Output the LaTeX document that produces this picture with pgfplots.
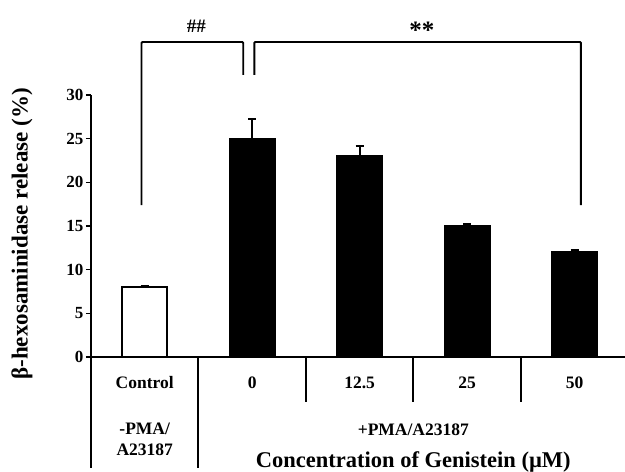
\documentclass[border=0pt]{standalone}
\usepackage{fontspec}
\setmainfont{Liberation Serif}
\usepackage{pgfplots}
\pgfplotsset{compat=1.18}
\begin{document}
\begin{tikzpicture}
\begin{axis}[
  scale only axis, width=534pt, height=262pt,
  xmin=-0.5, xmax=4.47, ymin=0, ymax=30,
  axis x line=bottom, axis y line=left,
  axis line style={-, line width=1.9pt},
  xtick=\empty,
  ytick={0,5,...,30},
  tick style={line width=1.6pt, black},
  tick align=outside, major tick length=5pt,
  yticklabel style={font=\bfseries\fontsize{17}{17}\selectfont, xshift=1pt},
  /pgf/number format/assume math mode=true,
  clip=false,
  ybar, bar width=45pt,
  error bars/y dir=plus, error bars/y explicit,
  error bars/error bar style={line width=1.9pt, solid},
  error bars/error mark options={rotate=90, mark size=4pt, line width=1.9pt},
]
\addplot[bar shift=0pt, draw=black, fill=white, line width=1.9pt] coordinates {(0,8) +- (0,0.15)};
\addplot[bar shift=0pt, draw=black, fill=black, line width=1.9pt] coordinates {(1,25) +- (0,2.3) (2,23) +- (0,1.2) (3,15) +- (0,0.2) (4,12) +- (0,0.3)};

\coordinate (O) at (axis cs:-0.5,0);
% table lines below the axis
\draw[line width=1.9pt] (axis cs:-0.5,0) -- ([yshift=-111pt]axis cs:-0.5,0);
\draw[line width=1.9pt] (axis cs:0.5,0) -- ([yshift=-111pt]axis cs:0.5,0);
\draw[line width=1.9pt] (axis cs:1.5,0) -- ([yshift=-45pt]axis cs:1.5,0);
\draw[line width=1.9pt] (axis cs:2.5,0) -- ([yshift=-45pt]axis cs:2.5,0);
\draw[line width=1.9pt] (axis cs:3.5,0) -- ([yshift=-45pt]axis cs:3.5,0);
% category labels
\node[font=\bfseries\fontsize{17.5}{17.5}\selectfont] at ([yshift=-26pt]axis cs:0,0) {Control};
\node[font=\bfseries\fontsize{17.5}{17.5}\selectfont] at ([yshift=-26pt]axis cs:1,0) {0};
\node[font=\bfseries\fontsize{17.5}{17.5}\selectfont] at ([yshift=-26pt]axis cs:2,0) {12.5};
\node[font=\bfseries\fontsize{17.5}{17.5}\selectfont] at ([yshift=-26pt]axis cs:3,0) {25};
\node[font=\bfseries\fontsize{17.5}{17.5}\selectfont] at ([yshift=-26pt]axis cs:4,0) {50};
\node[font=\bfseries\fontsize{17.5}{21}\selectfont, align=center] at ([yshift=-82pt]axis cs:0,0) {-PMA/\\A23187};
\node[font=\bfseries\fontsize{17.5}{17.5}\selectfont] at ([yshift=-73pt]axis cs:2.5,0) {+PMA/A23187};
\node[font=\bfseries\fontsize{22.5}{22.5}\selectfont] at ([yshift=-105pt]axis cs:2.5,0) {Concentration of Genistein (µM)};
% y label
\node[font=\bfseries\fontsize{23}{23}\selectfont, rotate=90] at ([xshift=-69pt]axis cs:-0.5,14.1) {β-hexosaminidase release (\%)};
% significance brackets
\draw[line width=1.9pt, rounded corners=1pt] (axis cs:-0.03,17.4) -- (axis cs:-0.03,36.07) -- (axis cs:0.917,36.07) -- (axis cs:0.917,32.3);
\draw[line width=1.9pt, rounded corners=1pt] (axis cs:1.02,32.3) -- (axis cs:1.02,36.07) -- (axis cs:4.06,36.07) -- (axis cs:4.06,17.4);
\node[font=\bfseries\fontsize{19}{19}\selectfont] at (axis cs:0.48,37.9) {\#\#};
\node[font=\bfseries\fontsize{25}{25}\selectfont] at (axis cs:2.58,37.4) {**};
\end{axis}
\pgfresetboundingbox
\path[use as bounding box] ([shift={(-91pt,-115pt)}]O) rectangle ([shift={(534pt,357pt)}]O);
\end{tikzpicture}
\end{document}
